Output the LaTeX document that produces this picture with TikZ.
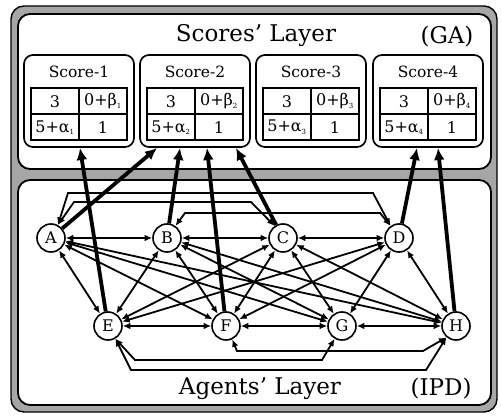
\documentclass[tikz,border=0pt]{standalone}
\usepackage{fontspec}
\setmainfont{DejaVu Serif}
\usetikzlibrary{arrows.meta}
\begin{document}
\begin{tikzpicture}[x=1pt,y=-1pt,
  agent/.style={circle,draw,line width=1.6pt,fill=white,minimum size=28pt,inner sep=0pt,font=\fontsize{16}{16}\selectfont},
  link/.style={line width=1.8pt,{Latex[length=7.5pt,width=6.5pt]}-{Latex[length=7.5pt,width=6.5pt]}},
  report/.style={line width=3.8pt,-{Latex[length=12pt,width=11pt]}},
  scorebox/.style={draw,line width=1.7pt,rounded corners=9pt,fill=white,minimum width=110pt,minimum height=92pt},
  panel/.style={draw,line width=1.8pt,rounded corners=12pt,fill=white},
  bigtitle/.style={font=\fontsize{23}{25}\selectfont},
  boxtitle/.style={font=\fontsize{15.5}{16}\selectfont},
  cell/.style={font=\fontsize{16}{16}\selectfont,inner sep=0pt},
  tbl/.style={line width=1.5pt}
]
\useasboundingbox (0,0) rectangle (501,417);
% frame
\draw[line width=1.4pt,rounded corners=13pt,fill=black!35] (11,6) rectangle (497,412);
\draw[panel] (18,14) rectangle (491,169);
\draw[panel] (18,180) rectangle (491,405);
% titles
\node[bigtitle] (t1) at (256,36) {Scores’ Layer};
\node[bigtitle] (t2) at (447,37) {(GA)};
\node[bigtitle] (t3) at (260,389) {Agents’ Layer};
\node[bigtitle] (t4) at (441,389) {(IPD)};
% score boxes
\foreach \cx/\k in {79/1,195/2,311/3,428/4}{
  \node[scorebox] (s\k) at (\cx,101) {};
  \node[boxtitle] (st\k) at (\cx,72) {Score-\k};
  \draw[tbl] (\cx-48,88) rectangle (\cx+48,140);
  \draw[tbl] (\cx-48,114) -- (\cx+48,114);
  \draw[tbl] (\cx,88) -- (\cx,140);
  \node[cell] (c\k a) at (\cx-24,101.5) {3};
  \node[cell] (c\k b) at (\cx+24,101.5) {0+β\textsubscript{\scriptsize\k}};
  \node[cell] (c\k c) at (\cx-24,127.5) {5+α\textsubscript{\scriptsize\k}};
  \node[cell] (c\k d) at (\cx+24,127.5) {1};
}
% agents
\node[agent] (A) at (51,238) {A};
\node[agent] (B) at (167,238) {B};
\node[agent] (C) at (283,238) {C};
\node[agent] (D) at (399,238) {D};
\node[agent] (E) at (108,326) {E};
\node[agent] (F) at (226,326) {F};
\node[agent] (G) at (342,326) {G};
\node[agent] (H) at (456,326) {H};
% straight links
\foreach \a/\b in {A/B,B/C,C/D,E/F,F/G,G/H,A/E,A/F,A/G,A/H,B/E,B/F,B/G,B/H,C/E,C/F,C/G,C/H,D/E,D/F,D/G,D/H}
  \draw[link] (\a) -- (\b);
% routed links
\draw[link] (A.62) -- (68,193) -- (373,193) -- (D.125);
\draw[link] (A.62) -- (74,202) -- (251,202) -- (C.125);
\draw[link] (B.55) -- (185,213) -- (380,213) -- (D.125);
\draw[link] (E.-60) -- (135,360) -- (322,360) -- (G.-120);
\draw[link] (E.-60) -- (131,370) -- (426,370) -- (H.-130);
\draw[link] (F.-65) -- (237,351) -- (423,351) -- (H.-130);
% report arrows
\coordinate (p1e) at (80,148);
\coordinate (p2a) at (157,148);
\coordinate (p2b) at (180,148);
\coordinate (p2f) at (207,148);
\coordinate (p2c) at (236,148);
\coordinate (p4d) at (417,148);
\coordinate (p4h) at (438,148);
\draw[report] (E) -- (p1e);
\draw[report] (A) -- (p2a);
\draw[report] (B) -- (p2b);
\draw[report] (F) -- (p2f);
\draw[report] (C) -- (p2c);
\draw[report] (D) -- (p4d);
\draw[report] (H) -- (p4h);
\end{tikzpicture}
\end{document}
